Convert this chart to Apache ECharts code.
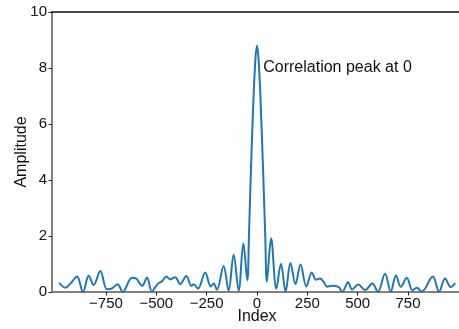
<!DOCTYPE html>
<html>
<head>
<meta charset="utf-8">
<script src="https://cdn.jsdelivr.net/npm/echarts@6/dist/echarts.min.js"></script>
<style>
  html, body { margin: 0; padding: 0; background: #fff; }
  #chart { width: 459px; height: 329px; }
</style>
</head>
<body>
<div id="chart"></div>
<script>
// lag index and correlation amplitude
const lagIndex = [
  -982, -952, -927, -894, -864, -836, -811, -778, -745, -720, -692, -667,
  -621, -600, -570, -546, -522, -492, -472, -450, -431, -406, -381, -351,
  -326, -315, -293, -257, -230, -215, -199, -166, -141, -116, -91, -68, -48,
  -40, -30, -18, -8, 0, 8, 18, 30, 41, 49,
  70, 96, 119, 142, 166, 191, 216, 245, 272, 293, 313, 329, 348, 371, 404,
  424, 452, 472, 503, 537, 573, 600, 636, 664, 690, 714, 744, 772, 793,
  818, 873, 904, 934, 962, 984
];
const amplitude = [
  0.33, 0.15, 0.30, 0.55, 0.00, 0.58, 0.25, 0.75, 0.10, 0.13, 0.28, 0.00,
  0.51, 0.48, 0.22, 0.52, 0.02, 0.30, 0.38, 0.55, 0.45, 0.53, 0.28, 0.57,
  0.22, 0.28, 0.12, 0.70, 0.20, 0.30, 0.08, 0.93, 0.05, 1.33, 0.05, 1.73, 0.42,
  2.0, 4.4, 6.8, 8.3, 8.8, 8.3, 6.8, 4.4, 2.0, 0.37,
  1.92, 0.12, 1.01, 0.01, 1.04, 0.28, 0.98, 0.20, 0.70, 0.44, 0.48, 0.38,
  0.19, 0.22, 0.18, 0.01, 0.35, 0.09, 0.27, 0.07, 0.30, 0.01, 0.65, 0.01,
  0.59, 0.19, 0.51, 0.06, 0.15, 0.01, 0.55, 0.01, 0.48, 0.18, 0.32
];
const xTicks = [-750, -500, -250, 0, 250, 500, 750];
const yTicks = [0, 2, 4, 6, 8, 10];
const note = 'Correlation peak at 0';

const FONT = 'Liberation Sans, Arial, sans-serif';
const chart = echarts.init(document.getElementById('chart'));

chart.setOption({
  animation: false,
  grid: {left: 52, top: 12, right: -3, bottom: 37, outerBoundsMode: 'none'},
  xAxis: [{
    type: 'value', min: -1018, max: 1018,
    name: 'Index', nameLocation: 'middle', nameGap: 17, nameMoveOverlap: false,
    nameTextStyle: {fontFamily: FONT, fontSize: 16, color: '#111'},
    axisLine: {onZero: false, lineStyle: {color: '#808080', width: 2}},
    axisTick: {customValues: xTicks, length: 3.5, lineStyle: {color: '#222'}},
    axisLabel: {
      customValues: xTicks, margin: 4,
      fontFamily: FONT, fontSize: 15, color: '#111',
      formatter: v => String(v).replace('-', '\u2212')
    },
    splitLine: {show: false}
  }, {
    type: 'value', position: 'top', min: -1018, max: 1018,
    axisLine: {show: true, onZero: false, lineStyle: {color: '#111', width: 1.5}},
    axisTick: {show: false}, axisLabel: {show: false}, splitLine: {show: false}
  }],
  yAxis: {
    type: 'value', min: 0, max: 10, interval: 2,
    name: 'Amplitude', nameLocation: 'middle', nameGap: 22, nameMoveOverlap: false,
    nameTextStyle: {fontFamily: FONT, fontSize: 16, color: '#111'},
    axisLine: {show: true, onZero: false, lineStyle: {color: '#808080', width: 2}},
    axisTick: {show: true, length: 3.5, lineStyle: {color: '#222'}},
    axisLabel: {
      margin: 5, fontFamily: FONT, fontSize: 15, color: '#111',
      formatter: v => yTicks.includes(v) ? String(v) : ''
    },
    splitLine: {show: false}
  },
  series: [{
    type: 'line',
    data: lagIndex.map((x, i) => [x, amplitude[i]]),
    smooth: 0.35,
    showSymbol: false,
    lineStyle: {color: '#1f77b4', width: 2},
    markPoint: {
      symbol: 'circle', symbolSize: 0,
      label: {
        show: true, position: 'right', distance: 0,
        formatter: note, fontFamily: FONT, fontSize: 16, color: '#111'
      },
      data: [{coord: [31, 8.02]}]
    }
  }]
});
</script>
</body>
</html>
